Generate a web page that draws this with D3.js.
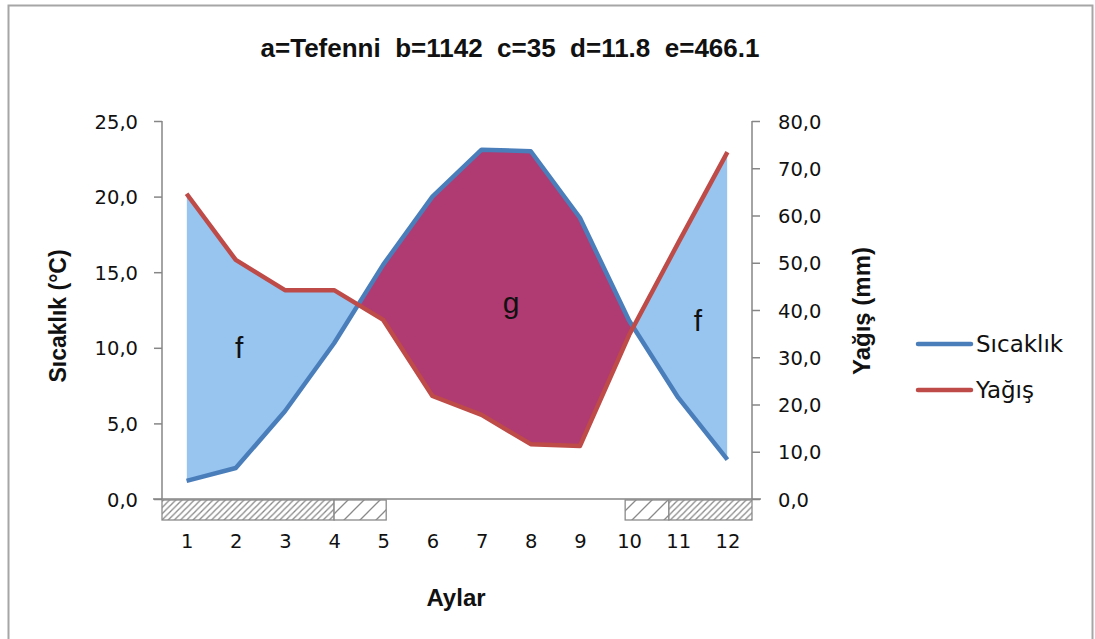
<!DOCTYPE html>
<html><head><meta charset="utf-8">
<script src="https://cdn.jsdelivr.net/npm/d3@7"></script>
<style>
body{margin:0;background:#fff;}
svg{display:block;}
.tick text{font-family:"DejaVu Sans",sans-serif;font-size:19.5px;fill:#111;}
</style></head><body>
<svg id="c" width="1095" height="639"></svg>
<script>
const months = [1,2,3,4,5,6,7,8,9,10,11,12];
const temperature = [1.2,2.05,5.8,10.3,15.5,20.0,23.1,23.0,18.6,11.8,6.7,2.6];
const precipitation = [64.6,50.6,44.2,44.2,37.9,21.8,17.8,11.6,11.2,34.7,54.2,73.4];
const tempTicks = [0,5,10,15,20,25];
const precTicks = [0,10,20,30,40,50,60,70,80];
const hatchStart = [0.5,4,9.92,10.81];
const hatchEnd   = [4,5.06,10.81,12.5];
const hatchKind  = ["dense","sparse","sparse","dense"];
const areaLabels = ["f","g","f"];
const areaLabelMonth = [2.07,7.6,11.4];
const areaLabelTemp = [9.3,12.3,11.1];
const title = "a=Tefenni  b=1142  c=35  d=11.8  e=466.1";

const svg = d3.select("#c");
const L=162,R=752,T=121,B=499;
const x = d3.scaleLinear().domain([0.5,12.5]).range([L,R]);
const yL = d3.scaleLinear().domain([0,25]).range([B,T]);
const yR = d3.scaleLinear().domain([0,80]).range([B,T]);
const fmt = d => d.toFixed(1).replace(".",",");

// frame
svg.append("rect").attr("x",8.5).attr("y",5.5).attr("width",1084).attr("height",650)
  .attr("fill","none").attr("stroke","#a6a6a6").attr("stroke-width",2);

const defs = svg.append("defs");
function hatch(id,s){
  const p = defs.append("pattern").attr("id",id).attr("patternUnits","userSpaceOnUse")
    .attr("width",s).attr("height",s);
  p.append("rect").attr("width",s).attr("height",s).attr("fill","#fff");
  p.append("path").attr("d",`M0,${s} L${s},0 M${-s/2},${s/2} L${s/2},${-s/2} M${s/2},${s*1.5} L${s*1.5},${s/2}`)
    .attr("stroke","#8a8a8a").attr("stroke-width",1.3);
}
hatch("dense",6.2); hatch("sparse",16);

const data = months.map((m,i)=>({m,t:temperature[i],p:precipitation[i]}));

// clip regions above / below temperature line
const lineT = d3.line().x(d=>x(d.m)).y(d=>yL(d.t));
const lineP = d3.line().x(d=>x(d.m)).y(d=>yR(d.p));
const aboveT = d3.area().x(d=>x(d.m)).y0(0).y1(d=>yL(d.t));
const belowT = d3.area().x(d=>x(d.m)).y0(700).y1(d=>yL(d.t));
defs.append("clipPath").attr("id","cA").append("path").attr("d",aboveT(data));
defs.append("clipPath").attr("id","cB").append("path").attr("d",belowT(data));
const between = d3.area().x(d=>x(d.m)).y0(d=>yL(d.t)).y1(d=>yR(d.p));
svg.append("path").attr("d",between(data)).attr("fill","#97c5f0").attr("clip-path","url(#cA)");
svg.append("path").attr("d",between(data)).attr("fill","#b03a72").attr("clip-path","url(#cB)");

// hatch boxes
svg.selectAll("rect.h").data(hatchStart).join("rect").attr("class","h")
  .attr("x",(d)=>x(d)).attr("y",B+1).attr("width",(d,i)=>x(hatchEnd[i])-x(d)).attr("height",20)
  .attr("fill",(d,i)=>`url(#${hatchKind[i]})`).attr("stroke","#8a8a8a").attr("stroke-width",1.3);

// axes
const ax = svg.append("g").attr("transform",`translate(${L},0)`)
  .call(d3.axisLeft(yL).tickValues(tempTicks).tickFormat(fmt).tickSize(8).tickPadding(16));
const ax2 = svg.append("g").attr("transform",`translate(${R},0)`)
  .call(d3.axisRight(yR).tickValues(precTicks).tickFormat(fmt).tickSize(8).tickPadding(18));
[ax,ax2].forEach(a=>{a.selectAll("path,line").attr("stroke","#868686").attr("stroke-width",1.5);});
ax.select(".domain").attr("d",`M-0,${T}H0V${B}`);
ax2.select(".domain").attr("d",`M0,${T}H0V${B}`);
ax.selectAll(".tick text").attr("dy","0.36em");
ax2.selectAll(".tick text").attr("dy","0.36em");

svg.append("line").attr("x1",153).attr("x2",761).attr("y1",B).attr("y2",B)
  .attr("stroke","#868686").attr("stroke-width",1.5);

const xa = svg.append("g").attr("transform",`translate(0,${B})`)
  .call(d3.axisBottom(x).tickValues(months).tickFormat(d=>d).tickSize(0).tickPadding(35));
xa.select(".domain").remove();

// lines
svg.append("path").attr("d",lineT(data)).attr("fill","none").attr("stroke","#4a7ebb").attr("stroke-width",4.5).attr("stroke-linejoin","round");
svg.append("path").attr("d",lineP(data)).attr("fill","none").attr("stroke","#be4b48").attr("stroke-width",4.5).attr("stroke-linejoin","round");

// area labels
svg.selectAll("text.al").data(areaLabels).join("text").attr("class","al")
  .attr("x",(d,i)=>x(areaLabelMonth[i])).attr("y",(d,i)=>yL(areaLabelTemp[i]))
  .attr("text-anchor","middle").attr("font-family","'Liberation Sans',Arial,sans-serif")
  .attr("font-size",30).attr("fill","#111").text(d=>d);

// titles
svg.append("text").attr("x",510).attr("y",57).attr("text-anchor","middle")
  .attr("font-family","'Liberation Sans',Arial,sans-serif").attr("font-weight","bold")
  .attr("font-size",26).attr("fill","#111").style("white-space","pre").text(title);
svg.append("text").attr("x",456).attr("y",606).attr("text-anchor","middle")
  .attr("font-family","'Liberation Sans',Arial,sans-serif").attr("font-weight","bold")
  .attr("font-size",24).attr("fill","#111").text("Aylar");
svg.append("text").attr("transform","translate(66,316) rotate(-90)").attr("text-anchor","middle")
  .attr("font-family","'Liberation Sans',Arial,sans-serif").attr("font-weight","bold")
  .attr("font-size",23).attr("fill","#111").text("Sıcaklık (°C)");
svg.append("text").attr("transform","translate(870,311) rotate(-90)").attr("text-anchor","middle")
  .attr("font-family","'Liberation Sans',Arial,sans-serif").attr("font-weight","bold")
  .attr("font-size",24).attr("fill","#111").text("Yağış (mm)");

// legend
const legNames=["Sıcaklık","Yağış"], legColors=["#4a7ebb","#be4b48"];
const lg = svg.selectAll("g.lg").data(legNames).join("g").attr("class","lg")
  .attr("transform",(d,i)=>`translate(918,${344+i*46})`);
lg.append("line").attr("x1",0).attr("x2",53).attr("stroke",(d,i)=>legColors[i]).attr("stroke-width",4.5).attr("stroke-linecap","round");
lg.append("text").attr("x",58).attr("y",8).attr("font-family","'DejaVu Sans',sans-serif")
  .attr("font-size",23).attr("fill","#111").text(d=>d);
</script></body></html>
